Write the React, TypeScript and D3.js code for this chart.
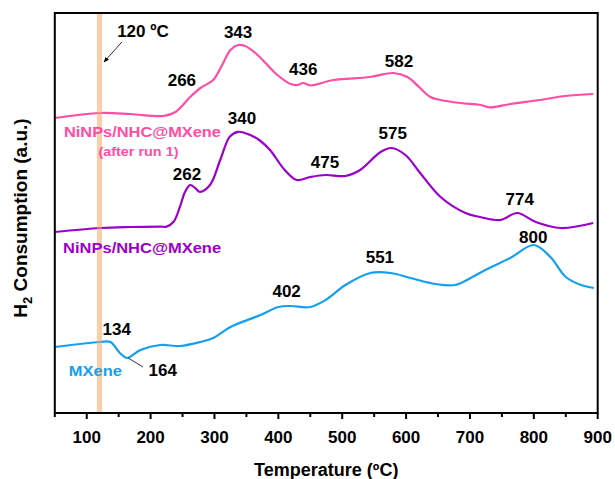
import React, { useEffect, useRef } from 'react';
import * as d3 from 'd3';

const WIDTH = 615;
const HEIGHT = 479;

// Plot frame in pixels
const LEFT = 54.8;
const RIGHT = 597.7;
const TOP = 13;
const BOTTOM = 413;

// NiNPs/NHC@MXene (after run 1) - temperature (ºC) / signal (a.u., offset)
const afterRunTemp = [50, 121, 168, 220, 239, 262, 278, 298, 312, 325, 337, 348, 364, 380, 395, 419, 430, 439, 450, 486, 544, 580, 602, 622, 638, 654, 685, 717, 732, 763, 810, 849, 893];
const afterRunSignal = [73.75, 75, 74.75, 74.25, 75.25, 79, 81.25, 83.25, 87, 90.75, 92, 91.75, 90, 87.5, 85, 82.25, 82, 82.5, 81.9, 83.25, 84, 85, 84, 81.25, 79, 78.25, 77.5, 77, 76.4, 77.25, 78.25, 79.25, 79.75];

// NiNPs/NHC@MXene
const freshTemp = [50, 121, 168, 215, 225, 236, 246, 254, 262, 270, 277, 293, 309, 324, 337, 356, 372, 387, 410, 429, 450, 474, 505, 528, 560, 577, 599, 622, 654, 693, 716, 748, 774, 803, 842, 893];
const freshSignal = [45.25, 46.25, 46.5, 46.6, 46.6, 47.8, 51.6, 55.3, 57, 56.2, 55.3, 57, 63.25, 69.1, 70.3, 69.5, 68, 65.75, 60.75, 58.25, 59, 59.5, 59.25, 60.75, 65.25, 66.25, 64.5, 60, 54, 50, 49, 48.25, 50, 47.75, 46.25, 47.5];

// MXene
const mxeneTemp = [50, 121, 137, 152, 163, 184, 215, 246, 278, 298, 325, 372, 400, 419, 450, 474, 505, 544, 576, 607, 646, 677, 701, 724, 763, 800, 826, 850, 874, 894];
const mxeneSignal = [16.5, 17.75, 17.75, 15, 13.75, 15.75, 17, 16.75, 17.75, 18.75, 21.5, 24.5, 26.5, 26.75, 26.5, 28.25, 32, 35, 35, 33.75, 32.25, 32, 33.75, 35.75, 38.75, 42, 39, 34, 32, 31.25];

// peak labels: text, temperature of the label, signal level of its baseline
const peakText = ['343', '266', '436', '582', '340', '262', '475', '575', '774', '800', '402', '551', '134', '164'];
const peakTemp = [337, 249, 439, 589, 343, 257, 473, 579, 778, 799, 413, 559, 147, 219];
const peakLevel = [93.7, 81.75, 84.5, 86.5, 72.25, 58.25, 61.25, 68.5, 52, 42.5, 29, 37.5, 19.5, 9.25];

const xTicks = [100, 200, 300, 400, 500, 600, 700, 800, 900];
const xMinorTicks = [50, 150, 250, 350, 450, 550, 650, 750, 850];

const COLORS = {
  afterRun: '#ff4da6',
  fresh: '#9a00c8',
  mxene: '#14a0f0',
};

const FONT = 'Liberation Sans, Arial, Helvetica, sans-serif';

export default function App() {
  const svgRef = useRef<SVGSVGElement>(null);

  useEffect(() => {
    if (!svgRef.current) return;
    const svg = d3.select(svgRef.current);
    svg.selectAll('*').remove();

    const x = d3.scaleLinear().domain([50, 900]).range([LEFT, RIGHT]);
    const y = d3.scaleLinear().domain([0, 100]).range([BOTTOM, TOP]);

    const defs = svg.append('defs');
    defs.append('marker')
      .attr('id', 'arrowhead')
      .attr('viewBox', '0 0 10 10')
      .attr('refX', 9)
      .attr('refY', 5)
      .attr('markerWidth', 7)
      .attr('markerHeight', 7)
      .attr('orient', 'auto')
      .append('path')
      .attr('d', 'M0,1 L10,5 L0,9 Z')
      .attr('fill', '#000');

    const line = d3.line<[number, number]>()
      .x(d => x(d[0]))
      .y(d => y(d[1]))
      .curve(d3.curveCatmullRom.alpha(0.5));

    const series = [
      { temp: afterRunTemp, signal: afterRunSignal, color: COLORS.afterRun },
      { temp: freshTemp, signal: freshSignal, color: COLORS.fresh },
      { temp: mxeneTemp, signal: mxeneSignal, color: COLORS.mxene },
    ];

    const curves = svg.append('g');
    series.forEach(s => {
      const pts = s.temp.map((t, i) => [t, s.signal[i]] as [number, number]);
      curves.append('path')
        .attr('d', line(pts))
        .attr('fill', 'none')
        .attr('stroke', s.color)
        .attr('stroke-width', 2.2)
        .attr('stroke-linejoin', 'round');
    });

    // 120 ºC marker band (drawn over the curves, semi-transparent)
    svg.append('rect')
      .attr('x', x(116))
      .attr('y', TOP)
      .attr('width', x(124) - x(116))
      .attr('height', BOTTOM - TOP)
      .attr('fill', '#f4a56a')
      .attr('opacity', 0.55);

    // peak labels
    const labels = svg.append('g')
      .attr('font-family', FONT)
      .attr('font-weight', 'bold')
      .attr('font-size', 17)
      .attr('text-anchor', 'middle')
      .attr('fill', '#000');
    peakText.forEach((t, i) => {
      labels.append('text')
        .attr('x', x(peakTemp[i]))
        .attr('y', y(peakLevel[i]))
        .text(t);
    });

    // 120 ºC annotation
    labels.append('text')
      .attr('x', x(188))
      .attr('y', y(94.1))
      .text('120 ºC');
    svg.append('line')
      .attr('x1', x(155)).attr('y1', y(92.75))
      .attr('x2', x(127)).attr('y2', y(87.75))
      .attr('stroke', '#000')
      .attr('stroke-width', 0.8)
      .attr('marker-end', 'url(#arrowhead)');

    // leader line for 164
    svg.append('line')
      .attr('x1', x(165)).attr('y1', y(13.75))
      .attr('x2', x(188)).attr('y2', y(11.5))
      .attr('stroke', '#000')
      .attr('stroke-width', 0.8);

    // series names
    const names = svg.append('g')
      .attr('font-family', FONT)
      .attr('font-weight', 'bold');
    names.append('text')
      .attr('x', x(64.4)).attr('y', y(69.1))
      .attr('font-size', 14.5)
      .attr('fill', COLORS.afterRun)
      .attr('textLength', 157)
      .attr('lengthAdjust', 'spacingAndGlyphs')
      .text('NiNPs/NHC@MXene');
    names.append('text')
      .attr('x', x(181)).attr('y', y(64.3))
      .attr('font-size', 13)
      .attr('text-anchor', 'middle')
      .attr('fill', COLORS.afterRun)
      .attr('textLength', 80)
      .attr('lengthAdjust', 'spacingAndGlyphs')
      .text('(after run 1)');
    names.append('text')
      .attr('x', x(63)).attr('y', y(40))
      .attr('font-size', 14.5)
      .attr('fill', COLORS.fresh)
      .attr('textLength', 158)
      .attr('lengthAdjust', 'spacingAndGlyphs')
      .text('NiNPs/NHC@MXene');
    names.append('text')
      .attr('x', x(72)).attr('y', y(9.25))
      .attr('font-size', 14.5)
      .attr('fill', COLORS.mxene)
      .attr('textLength', 53)
      .attr('lengthAdjust', 'spacingAndGlyphs')
      .text('MXene');

    // frame
    svg.append('rect')
      .attr('x', LEFT)
      .attr('y', TOP)
      .attr('width', RIGHT - LEFT)
      .attr('height', BOTTOM - TOP)
      .attr('fill', 'none')
      .attr('stroke', '#000')
      .attr('stroke-width', 2);

    // x ticks
    const axis = svg.append('g');
    xTicks.forEach(t => {
      axis.append('line')
        .attr('x1', x(t)).attr('x2', x(t))
        .attr('y1', BOTTOM).attr('y2', BOTTOM + 6)
        .attr('stroke', '#000').attr('stroke-width', 2);
      axis.append('text')
        .attr('x', x(t)).attr('y', 443)
        .attr('text-anchor', 'middle')
        .attr('font-family', FONT)
        .attr('font-weight', 'bold')
        .attr('font-size', 17)
        .attr('fill', '#000')
        .text(t);
    });
    xMinorTicks.forEach(t => {
      axis.append('line')
        .attr('x1', x(t)).attr('x2', x(t))
        .attr('y1', BOTTOM).attr('y2', BOTTOM + 4)
        .attr('stroke', '#000').attr('stroke-width', 2);
    });

    // axis titles
    svg.append('text')
      .attr('x', (LEFT + RIGHT) / 2)
      .attr('y', 476)
      .attr('text-anchor', 'middle')
      .attr('font-family', FONT)
      .attr('font-weight', 'bold')
      .attr('font-size', 18)
      .attr('fill', '#000')
      .text('Temperature (ºC)');

    const yTitle = svg.append('text')
      .attr('transform', `translate(27, ${(TOP + BOTTOM) / 2 + 5}) rotate(-90)`)
      .attr('text-anchor', 'middle')
      .attr('font-family', FONT)
      .attr('font-weight', 'bold')
      .attr('font-size', 19)
      .attr('fill', '#000');
    yTitle.append('tspan').text('H');
    yTitle.append('tspan').attr('font-size', 13).attr('dy', 5).text('2');
    yTitle.append('tspan').attr('dy', -5).text(' Consumption (a.u.)');
  }, []);

  return (
    <svg
      ref={svgRef}
      width={WIDTH}
      height={HEIGHT}
      style={{ position: 'absolute', left: 0, top: 0, background: '#fff' }}
    />
  );
}
